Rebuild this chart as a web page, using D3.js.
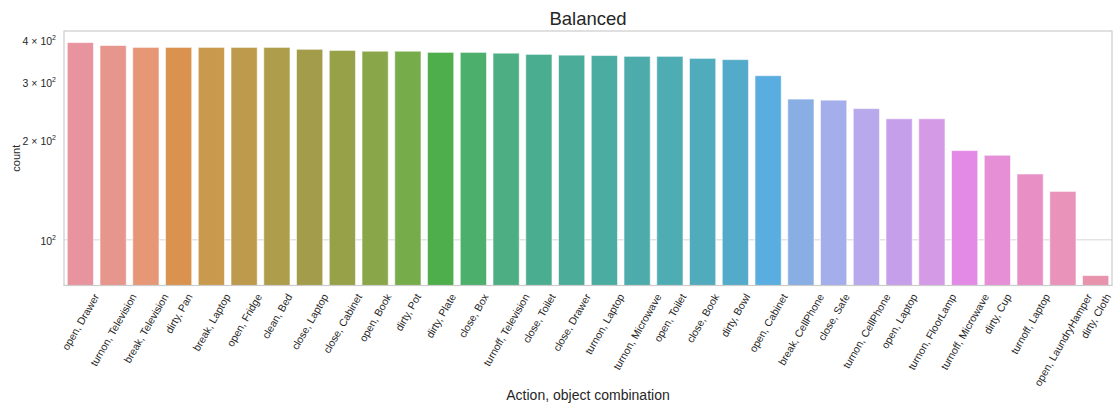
<!DOCTYPE html>
<html>
<head>
<meta charset="utf-8">
<script src="https://cdn.jsdelivr.net/npm/d3@7"></script>
<style>
  body { margin: 0; background: #fff; }
  text { font-family: "Liberation Sans", Arial, sans-serif; fill: #262626; }
</style>
</head>
<body>
<div id="chart"></div>
<script>
// data
var categories = ['open, Drawer', 'turnon, Television', 'break, Television', 'dirty, Pan', 'break, Laptop',
  'open, Fridge', 'clean, Bed', 'close, Laptop', 'close, Cabinet', 'open, Book', 'dirty, Pot',
  'dirty, Plate', 'close, Box', 'turnoff, Television', 'close, Toilet', 'close, Drawer',
  'turnon, Laptop', 'turnon, Microwave', 'open, Toilet', 'close, Book', 'dirty, Bowl',
  'open, Cabinet', 'break, CellPhone', 'close, Safe', 'turnon, CellPhone', 'open, Laptop',
  'turnon, FloorLamp', 'turnoff, Microwave', 'dirty, Cup', 'turnoff, Laptop',
  'open, LaundryHamper', 'dirty, Cloth'];
var counts = [394, 386, 381, 381, 381, 381, 381, 376, 373, 371, 371, 368, 368, 366, 363, 361,
  360, 358, 358, 353, 350, 313, 266, 264, 249, 232, 232, 186, 180, 158, 140, 78];
var yTicks = [100, 200, 300, 400];
var yTickLabels = [['10', '2'], ['2 \u00d7 10', '2'], ['3 \u00d7 10', '2'], ['4 \u00d7 10', '2']];

// palette (seaborn husl, desaturated)
var barColors = ['#e8949f', '#e7968e', '#e59776', '#da934f', '#c9994d', '#bd9a4c', '#ae9d4b', '#a39c4a',
  '#97a148', '#89a649', '#77ac4a', '#4eae4b', '#4caf6c', '#4cae82', '#4bad8f', '#4bad99',
  '#4baca2', '#4dacab', '#4eacb3', '#50abbd', '#53abc9', '#5aade0', '#89aee4', '#a3aeea',
  '#b7a9ec', '#c59fe9', '#d59ae6', '#e28ae6', '#e68ed6', '#e88fc6', '#e993ba', '#e893ae'];

const W = 1115, H = 410;
const margin = {top: 31, right: 3, bottom: 124.5, left: 64};
const width = W - margin.left - margin.right,
  height = H - margin.top - margin.bottom;

const svg = d3.select('#chart').append('svg')
  .attr('width', W)
  .attr('height', H);

const g = svg.append('g')
  .attr('transform', `translate(${margin.left}, ${margin.top})`);

const x = d3.scaleBand()
  .domain(categories)
  .range([0, width])
  .paddingInner(0.2)
  .paddingOuter(0.1);

const y = d3.scaleLog()
  .domain([72.8, 427])
  .range([height, 0]);

// grid line at major tick only
g.append('g')
  .selectAll('line')
  .data([100])
  .join('line')
  .attr('x1', 0)
  .attr('x2', width)
  .attr('y1', d => y(d))
  .attr('y2', d => y(d))
  .attr('stroke', '#d6d6d6')
  .attr('stroke-width', 1);

// bars
g.append('g')
  .selectAll('rect')
  .data(categories)
  .join('rect')
  .attr('x', d => x(d))
  .attr('width', x.bandwidth())
  .attr('y', (d, i) => y(counts[i]))
  .attr('height', (d, i) => height - y(counts[i]))
  .attr('fill', (d, i) => barColors[i])
  .attr('stroke', '#ffffff')
  .attr('stroke-opacity', 0.55)
  .attr('stroke-width', 1);

// spines
g.append('rect')
  .attr('x', 0)
  .attr('y', 0)
  .attr('width', width)
  .attr('height', height)
  .attr('fill', 'none')
  .attr('stroke', '#cccccc')
  .attr('stroke-width', 1.2);

// y tick labels with superscripts
const yl = g.append('g')
  .selectAll('text')
  .data(yTicks)
  .join('text')
  .attr('x', -8)
  .attr('y', d => y(d) + 5)
  .attr('text-anchor', 'end')
  .style('font-size', '10.5px');
yl.append('tspan').text((d, i) => yTickLabels[i][0]);
yl.append('tspan')
  .attr('dy', -5)
  .style('font-size', '7px')
  .text((d, i) => yTickLabels[i][1]);

// x tick labels, rotated 60 degrees, box centred under the tick
const xl = g.append('g')
  .selectAll('text')
  .data(categories)
  .join('text')
  .attr('text-anchor', 'middle')
  .attr('dominant-baseline', 'central')
  .style('font-size', '10.5px')
  .text(d => d);

const s60 = Math.sin(Math.PI / 3), c60 = Math.cos(Math.PI / 3);
const lineH = 12;
xl.each(function(d) {
  const L = this.getComputedTextLength();
  const boxH = L * s60 + lineH * c60;
  const cx = x(d) + x.bandwidth() / 2;
  const cy = height + 6 + boxH / 2;
  d3.select(this).attr('transform', `translate(${cx}, ${cy}) rotate(-60)`);
});

// title and axis labels
svg.append('text')
  .attr('x', margin.left + width / 2)
  .attr('y', 25)
  .attr('text-anchor', 'middle')
  .style('font-size', '18.5px')
  .text('Balanced');

svg.append('text')
  .attr('x', margin.left + width / 2)
  .attr('y', 400)
  .attr('text-anchor', 'middle')
  .style('font-size', '14px')
  .text('Action, object combination');

svg.append('text')
  .attr('transform', `translate(20, ${margin.top + height / 2}) rotate(-90)`)
  .attr('text-anchor', 'middle')
  .style('font-size', '11px')
  .text('count');
</script>
</body>
</html>
